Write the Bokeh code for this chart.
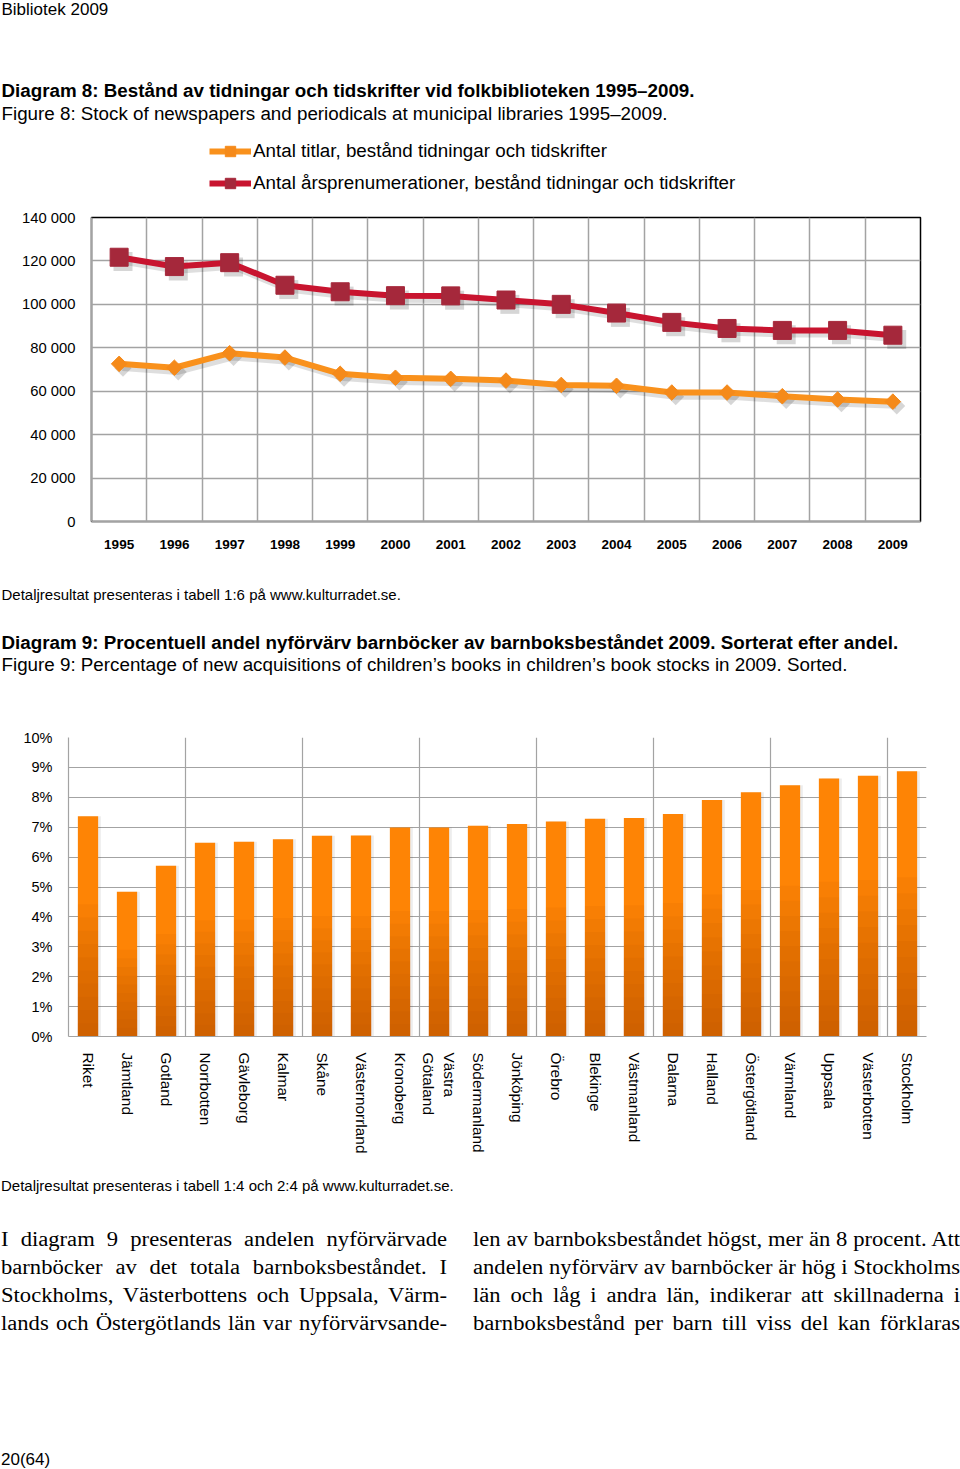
import numpy as np
from bokeh.plotting import figure
from bokeh.models import (ColumnDataSource, FixedTicker, Legend, LegendItem, Range1d, Div)
from bokeh.layouts import column
from bokeh.core.properties import value
from bokeh.transform import dodge
from bokeh.embed import file_html
from bokeh.resources import INLINE

# ---------------- data ----------------
years = [1995, 1996, 1997, 1998, 1999, 2000, 2001, 2002, 2003, 2004, 2005, 2006, 2007, 2008, 2009]
titlar = [72600, 70800, 77500, 75500, 68000, 66200, 65700, 64900, 62900, 62500, 59400, 59400, 57700, 56200, 55200]
prenumerationer = [121700, 117400, 119200, 108800, 105800, 104000, 103900, 102000, 100000, 96000,
                   91700, 88900, 88000, 88000, 85800]
y1_ticks = [0, 20000, 40000, 60000, 80000, 100000, 120000, 140000]

lan = ["Riket", "Jämtland", "Gotland", "Norrbotten", "Gävleborg", "Kalmar", "Skåne",
       "Västernorrland", "Kronoberg", "Västra\nGötaland", "Södermanland", "Jönköping", "Örebro",
       "Blekinge", "Västmanland", "Dalarna", "Halland", "Östergötland", "Värmland", "Uppsala",
       "Västerbotten", "Stockholm"]
andel = [7.37, 4.84, 5.71, 6.48, 6.51, 6.60, 6.71, 6.72, 6.99, 6.99, 7.05, 7.11, 7.19, 7.28,
         7.31, 7.44, 7.91, 8.17, 8.40, 8.63, 8.72, 8.87]
y2_ticks = [0, 1, 2, 3, 4, 5, 6, 7, 8, 9, 10]

legend_labels = ["Antal titlar, bestånd tidningar och tidskrifter",
                 "Antal årsprenumerationer, bestånd tidningar och tidskrifter"]

W = 960
SANS = "Liberation Sans"
SERIF = "Liberation Serif"
GRID = "#a3a3a3"
RED_L, RED_M = "#c8142f", "#a5283b"
OR_L, OR_M = "#f9911c", "#f58a1a"


def no_align(f):
    if "frame_align" in f.properties():
        f.frame_align = False
    return f


def text_fig(h):
    f = figure(width=W, height=h, x_range=Range1d(0, W), y_range=Range1d(h, 0),
               toolbar_location=None, output_backend="svg", min_border=0,
               x_axis_location=None, y_axis_location=None)
    f.grid.visible = False
    f.outline_line_color = None
    return no_align(f)


def put(f, x, y, txt, size, bold=False):
    f.text(x=[x], y=[y], text=[txt], text_font=value(SANS), text_font_size=size,
           text_font_style="bold" if bold else "normal", text_baseline="middle",
           text_align="left", text_color="#000000")


# ---------------- header (titles + legend of diagram 8) ----------------
HH = 200
head = text_fig(HH)
put(head, 1, 9, "Bibliotek 2009", "17px")
put(head, 1, 90, "Diagram 8: Bestånd av tidningar och tidskrifter vid folkbiblioteken 1995–2009.", "18.8px", True)
put(head, 1, 113, "Figure 8: Stock of newspapers and periodicals at municipal libraries 1995–2009.", "18.8px")

# legend key renderers (one non-drawable point each, only used for the legend glyphs)
keysrc = ColumnDataSource(dict(x=[np.nan], y=[np.nan]))
k_lo = head.line(x="x", y="y", source=keysrc, line_color=OR_L, line_width=6)
k_so = head.scatter(x="x", y="y", source=keysrc, marker="square", size=11, angle=np.pi / 4,
                    fill_color=OR_M, line_color=OR_M)
k_lr = head.line(x="x", y="y", source=keysrc, line_color=RED_L, line_width=6)
k_sr = head.scatter(x="x", y="y", source=keysrc, marker="square", size=18, fill_color=RED_M,
                    line_color=RED_M)
leg = Legend(items=[LegendItem(label=legend_labels[0], renderers=[k_lo, k_so]),
                    LegendItem(label=legend_labels[1], renderers=[k_lr, k_sr])],
             location=(209, 4), orientation="vertical", padding=0, margin=0, spacing=6,
             glyph_width=42, glyph_height=26, label_height=26, label_standoff=2,
             label_text_font=SANS, label_text_font_size="18.8px", label_text_color="#000000",
             border_line_color=None, background_fill_alpha=0)
head.add_layout(leg)

# ---------------- chart 1 ----------------
src1 = ColumnDataSource(dict(year=years, titlar=titlar, pren=prenumerationer))
p1 = figure(width=W, height=370, x_range=Range1d(years[0] - 0.5, years[-1] + 0.5),
            y_range=Range1d(0, y1_ticks[-1]), toolbar_location=None, output_backend="svg",
            min_border_left=91, min_border_right=40, min_border_top=17, min_border_bottom=49)
no_align(p1)
p1.outline_line_color = "#000000"
p1.outline_line_width = 1.5

p1.xaxis.ticker = FixedTicker(ticks=years)
p1.yaxis.ticker = FixedTicker(ticks=y1_ticks)
p1.yaxis.major_label_overrides = {t: f"{t:,}".replace(",", " ") for t in y1_ticks}
p1.xgrid.ticker = FixedTicker(ticks=[y + 0.5 for y in years[:-1]])
p1.ygrid.ticker = FixedTicker(ticks=y1_ticks[1:-1])
p1.grid.grid_line_color = GRID
p1.grid.grid_line_width = 1.5
for ax in (p1.xaxis[0], p1.yaxis[0]):
    ax.axis_line_color = GRID
    ax.axis_line_width = 1.5
    ax.major_tick_out = 0
    ax.major_tick_in = 0
    ax.minor_tick_out = 0
    ax.minor_tick_in = 0
    ax.major_label_text_font = SANS
    ax.major_label_text_color = "#000000"
p1.yaxis.major_label_text_font_size = "14.8px"
p1.yaxis.major_label_standoff = 16
p1.xaxis.major_label_text_font_size = "13.5px"
p1.xaxis.major_label_text_font_style = "bold"
p1.xaxis.major_label_standoff = 18

# soft drop shadows
p1.line(x=dodge("year", 0.06), y=dodge("pren", -1700), source=src1, line_color="black",
        line_alpha=0.13, line_width=7)
p1.line(x=dodge("year", 0.06), y=dodge("titlar", -1700), source=src1, line_color="black",
        line_alpha=0.13, line_width=7)
p1.scatter(x=dodge("year", 0.07), y=dodge("pren", -2000), source=src1, marker="square", size=19,
           fill_color="black", fill_alpha=0.16, line_color=None)
p1.scatter(x=dodge("year", 0.07), y=dodge("titlar", -2000), source=src1, marker="square", size=12,
           angle=np.pi / 4, fill_color="black", fill_alpha=0.16, line_color=None)

p1.line(x="year", y="pren", source=src1, line_color=RED_L, line_width=6)
p1.scatter(x="year", y="pren", source=src1, marker="square", size=18, fill_color=RED_M,
           line_color=RED_M)
p1.line(x="year", y="titlar", source=src1, line_color=OR_L, line_width=6)
p1.scatter(x="year", y="titlar", source=src1, marker="square", size=11, angle=np.pi / 4,
           fill_color=OR_M, line_color=OR_M)

# ---------------- middle text ----------------
mid = text_fig(130)
put(mid, 1, 24, "Detaljresultat presenteras i tabell 1:6 på www.kulturradet.se.", "15px")
put(mid, 1, 72, "Diagram 9: Procentuell andel nyförvärv barnböcker av barnboksbeståndet 2009. Sorterat efter andel.", "18.8px", True)
put(mid, 1, 94, "Figure 9: Percentage of new acquisitions of children’s books in children’s book stocks in 2009. Sorted.", "18.8px")

# ---------------- chart 2 ----------------
xc = [i + 0.5 for i in range(len(lan))]
src2 = ColumnDataSource(dict(x=xc, v=andel))
p2 = figure(width=W, height=465, x_range=Range1d(0, len(lan)), y_range=Range1d(0, y2_ticks[-1]),
            toolbar_location=None, output_backend="svg",
            min_border_left=68, min_border_right=34, min_border_top=37, min_border_bottom=129)
no_align(p2)
p2.outline_line_color = None
p2.xaxis.ticker = FixedTicker(ticks=xc)
p2.xaxis.major_label_overrides = {x: name for x, name in zip(xc, lan)}
p2.xaxis.major_label_orientation = "vertical"
p2.yaxis.ticker = FixedTicker(ticks=y2_ticks)
p2.yaxis.major_label_overrides = {t: f"{t}%" for t in y2_ticks}
p2.xgrid.ticker = FixedTicker(ticks=list(range(3, len(lan), 3)))
p2.ygrid.ticker = FixedTicker(ticks=y2_ticks)
p2.grid.grid_line_color = GRID
p2.grid.grid_line_width = 1.2
for ax in (p2.xaxis[0], p2.yaxis[0]):
    ax.axis_line_color = GRID
    ax.axis_line_width = 1.2
    ax.major_tick_out = 0
    ax.major_tick_in = 0
    ax.minor_tick_out = 0
    ax.minor_tick_in = 0
    ax.major_label_text_font = SANS
    ax.major_label_text_color = "#000000"
    ax.major_label_standoff = 16
p2.yaxis.major_label_text_font_size = "14.5px"
p2.xaxis.major_label_text_font_size = "15.4px"

BW = 0.52
p2.vbar(x=dodge("x", 0.07), top="v", width=BW, source=src2, fill_color="black", fill_alpha=0.07,
        line_color=None)
p2.vbar(x="x", top="v", width=BW, source=src2, fill_color="#fe8405", line_color=None)
# darker lower part of each bar (gradient), stacked translucent layers
for k in range(10):
    frac = 0.06 * (k + 1)
    p2.vbar(x=xc, top=[v * frac for v in andel], width=BW, fill_color="#a84000",
            fill_alpha=0.07, line_color=None)

# ---------------- bottom text ----------------
left_lines = ["I diagram 9 presenteras andelen nyförvärvade",
              "barnböcker av det totala barnboksbeståndet. I",
              "Stockholms, Västerbottens och Uppsala, Värm-",
              "lands och Östergötlands län var nyförvärvsande-"]
right_lines = ["len av barnboksbeståndet högst, mer än 8 procent. Att",
               "andelen nyförvärv av barnböcker är hög i Stockholms",
               "län och låg i andra län, indikerar att skillnaderna i",
               "barnboksbestånd per barn till viss del kan förklaras"]

SX = 1.13


def col_html(lines, left, width):
    rows = "".join(
        f'<div style="text-align:justify;text-align-last:justify;white-space:nowrap;height:28px">{t}</div>'
        for t in lines)
    return (f'<div style="position:absolute;left:{left}px;top:60px;width:{width / SX:.1f}px;'
            f'transform:scaleX({SX});transform-origin:0 0;'
            f'font-family:\'{SERIF}\',serif;font-size:20px;line-height:28px;color:#000">{rows}</div>')


BH = 304
html = (f'<div style="position:relative;width:{W}px;height:{BH}px;font-family:\'{SANS}\',sans-serif;color:#000">'
        f'<div style="position:absolute;left:1px;top:12px;font-size:15px;line-height:18px;white-space:nowrap">'
        f'Detaljresultat presenteras i tabell 1:4 och 2:4 på www.kulturradet.se.</div>'
        + col_html(left_lines, 1, 446) + col_html(right_lines, 473, 487) +
        f'<div style="position:absolute;left:1px;top:285px;font-size:17px;line-height:19px">20(64)</div>'
        f'</div>')
bottom = Div(text=html, width=W, height=BH, margin=0)

layout = column(head, p1, mid, p2, bottom, spacing=0)

open("out.html", "w").write(file_html(layout, INLINE, title="Bibliotek 2009"))
